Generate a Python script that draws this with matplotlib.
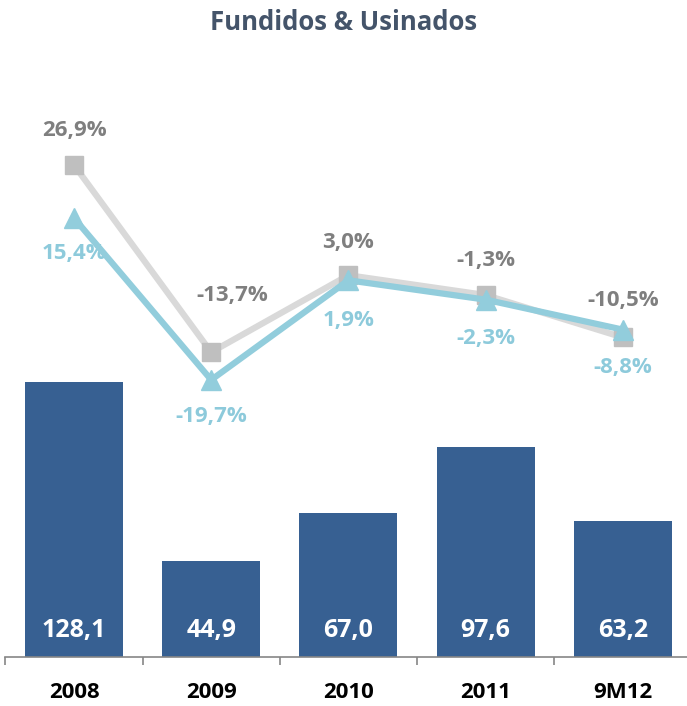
import matplotlib
matplotlib.use("Agg")
import matplotlib.pyplot as plt

categories = ["2008", "2009", "2010", "2011", "9M12"]
volume = [128.1, 44.9, 67.0, 97.6, 63.2]
grey_pct = [26.9, -13.7, 3.0, -1.3, -10.5]
blue_pct = [15.4, -19.7, 1.9, -2.3, -8.8]

plt.rcParams['font.family'] = ['Open Sans', 'DejaVu Sans']
plt.rcParams['font.weight'] = 'bold'

W, H = 687, 706
fig = plt.figure(figsize=(W/100, H/100), dpi=100)
ax = fig.add_axes([5.4/W, (H-657)/H, 686/W, 557/H])

x = list(range(len(categories)))
bar_col = "#376092"
ax.bar(x, volume, width=0.715, color=bar_col, zorder=2)
for xi, v in zip(x, volume):
    ax.annotate(("%.1f" % v).replace(".", ","), (xi, 0), xytext=(0, 27),
                textcoords="offset pixels", ha="center", va="center",
                color="white", fontsize=18, fontweight="bold")

ax.set_xlim(-0.5, 4.5)
ax.set_ylim(0, 259.4)
for s in ["top", "right", "left"]:
    ax.spines[s].set_visible(False)
ax.spines["bottom"].set_color("#868686")
ax.spines["bottom"].set_linewidth(1.2)
ax.set_yticks([])
ax.set_xticks(x)
ax.set_xticklabels(categories, fontsize=16, fontweight="bold", color="black")
ax.tick_params(axis="x", which="major", length=0, pad=18)
ax.set_xticks([-0.5, 0.5, 1.5, 2.5, 3.5], minor=True)
ax.tick_params(axis="x", which="minor", length=6, color="#868686", width=1.2)

ax2 = ax.twinx()
ax2.set_ylim(-79.8, 41.0)
ax2.set_axis_off()
ax2.plot(x, grey_pct, color="#D9D9D9", lw=4.5, marker="s", ms=13,
         mfc="#BFBFBF", mec="#BFBFBF", zorder=3)
ax2.plot(x, blue_pct, color="#92CDDC", lw=4.5, marker="^", ms=14,
         mfc="#92CDDC", mec="#92CDDC", zorder=4)

grey_off = [(0, 35), (21, 57), (0, 33), (0, 35), (0, 37)]
blue_off = [(0, -35), (0, -37), (0, -40), (0, -39), (0, -38)]
for xi, v, off in zip(x, grey_pct, grey_off):
    ax2.annotate(("%.1f%%" % v).replace(".", ","), (xi, v), xytext=off,
                 textcoords="offset pixels", ha="center", va="center",
                 color="#7F7F7F", fontsize=16, fontweight="bold")
for xi, v, off in zip(x, blue_pct, blue_off):
    ax2.annotate(("%.1f%%" % v).replace(".", ","), (xi, v), xytext=off,
                 textcoords="offset pixels", ha="center", va="center",
                 color="#8DCADB", fontsize=16, fontweight="bold")

fig.text(0.5, 1 - 23/H, "Fundidos & Usinados", ha="center", va="center",
         fontsize=18.5, fontweight="bold", color="#44546A")

fig.savefig("out.png", dpi=100)
